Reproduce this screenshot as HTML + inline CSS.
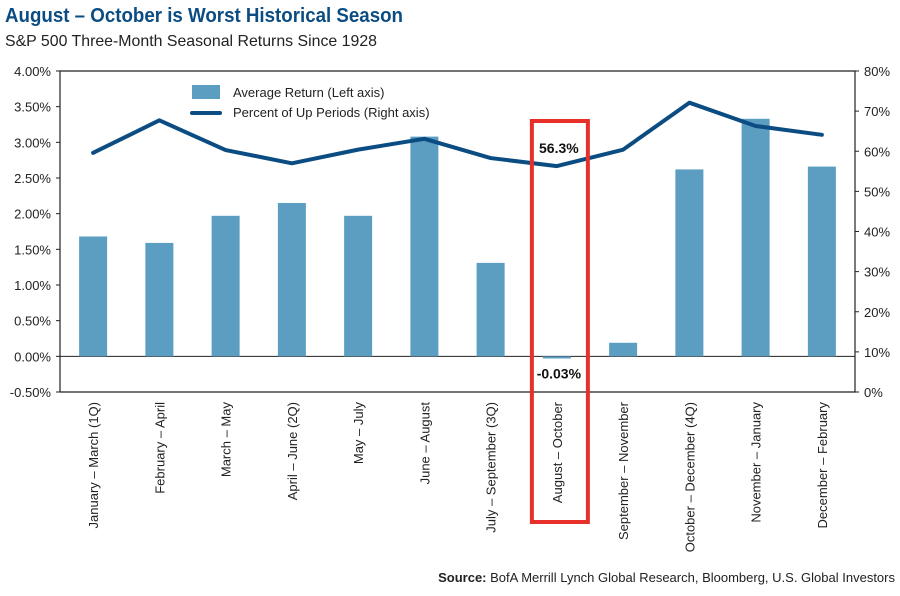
<!DOCTYPE html>
<html><head><meta charset="utf-8"><style>
body{margin:0;background:#fff;width:900px;height:591px;overflow:hidden;font-family:"Liberation Sans",sans-serif}
svg text{font-family:"Liberation Sans",sans-serif}
</style></head><body>
<svg id="chart" width="900" height="591" viewBox="0 0 900 591" xmlns="http://www.w3.org/2000/svg">
<text x="5" y="22" font-size="20" font-weight="bold" fill="#0b4d83" textLength="398" lengthAdjust="spacingAndGlyphs">August – October is Worst Historical Season</text>
<text x="5" y="46" font-size="16" fill="#222" textLength="372" lengthAdjust="spacingAndGlyphs">S&amp;P 500 Three-Month Seasonal Returns Since 1928</text>
<g id="plot"></g>
<g>
<rect x="192" y="85" width="28" height="14" fill="#5b9ec1"/>
<text x="233" y="97" font-size="13" fill="#222">Average Return (Left axis)</text>
<line x1="192" y1="113" x2="220" y2="113" stroke="#0b4d83" stroke-width="4" stroke-linecap="round"/>
<text x="233" y="117" font-size="13" fill="#222">Percent of Up Periods (Right axis)</text>
</g>
<text x="895" y="582" font-size="13" fill="#222" text-anchor="end"><tspan font-weight="bold">Source:</tspan> BofA Merrill Lynch Global Research, Bloomberg, U.S. Global Investors</text>
</svg>
<script>
const categories=["January – March (1Q)","February – April","March – May","April – June (2Q)","May – July","June – August","July – September (3Q)","August – October","September – November","October – December (4Q)","November – January","December – February"];
const avgReturn=[1.68,1.59,1.97,2.15,1.97,3.08,1.31,-0.03,0.19,2.62,3.33,2.66];
const upPct=[59.6,67.7,60.3,57.0,60.4,63.1,58.3,56.3,60.4,72.1,66.3,64.1];
const leftTicks=[4,3.5,3,2.5,2,1.5,1,0.5,0,-0.5];
const rightTicks=[80,70,60,50,40,30,20,10,0];
const svg=document.getElementById('chart'),g=document.getElementById('plot');
const NS='http://www.w3.org/2000/svg';
const L=60,R=855,T=71,B=392;
const yL=v=>T+(4-v)/4.5*(B-T);
const yR=v=>B-v/80*(B-T);
const bw=(R-L)/categories.length;
const xC=i=>L+bw*(i+0.5);
function mk(tag,a){const e=document.createElementNS(NS,tag);for(const k in a)e.setAttribute(k,a[k]);g.appendChild(e);return e;}
let e=mk('path',{d:`M${L},${B}V${T}H${R}V${B}H${L}`,fill:'none',stroke:'#222','stroke-width':1.2});


leftTicks.forEach(t=>{const y=yL(t);
 let l=mk('line',{x1:L-4,x2:L,y1:y,y2:y,stroke:'#222'});
 
 
 let tx=mk('text',{x:L-9,y:y+5,'font-size':13,'text-anchor':'end',fill:'#222'});tx.textContent=t.toFixed(2)+'%';
 
 });
rightTicks.forEach(t=>{const y=yR(t);
 let l=mk('line',{x1:R,x2:R+4,y1:y,y2:y,stroke:'#222'});
 
 
 let tx=mk('text',{x:R+9,y:y+5,'font-size':13,fill:'#222'});tx.textContent=t+'%';
 
 });
let z=mk('line',{x1:L,x2:R,y1:yL(0),y2:yL(0),stroke:'#222','stroke-width':1});


avgReturn.forEach((v,i)=>{const y0=yL(0),y=yL(v);
 let b=mk('rect',{x:xC(i)-14,y:Math.min(y,y0),width:28,height:Math.max(Math.abs(y-y0),2),fill:'#5b9ec1'});
 
 });
let p=mk('polyline',{points:upPct.map((v,i)=>xC(i)+','+yR(v)).join(' '),fill:'none',stroke:'#0b4d83','stroke-width':4,'stroke-linejoin':'round','stroke-linecap':'round'});


categories.forEach((c,i)=>{
 let t=mk('text',{x:0,y:0,'font-size':13,'text-anchor':'end',fill:'#222',transform:`translate(${xC(i)+5},${B+10}) rotate(-90)`});t.textContent=c;
 
 });
const hi=7;
let a1=mk('text',{x:xC(hi)+2,y:yR(upPct[hi])-13,'font-size':14,'font-weight':'bold','text-anchor':'middle',fill:'#111'});a1.textContent=upPct[hi].toFixed(1)+'%';


let a2=mk('text',{x:xC(hi)+2,y:yL(0)+22,'font-size':14,'font-weight':'bold','text-anchor':'middle',fill:'#111'});a2.textContent=avgReturn[hi].toFixed(2)+'%';


let box=mk('rect',{x:xC(hi)-25,y:121,width:56,height:401,fill:'none',stroke:'#e8302a','stroke-width':4});


</script>
</body></html>
